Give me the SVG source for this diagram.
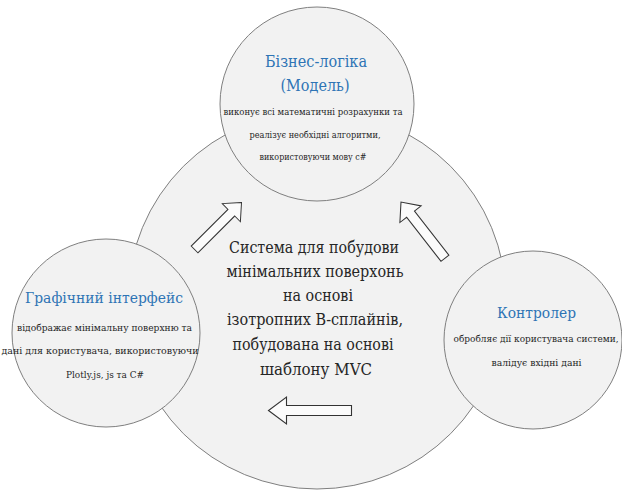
<svg xmlns="http://www.w3.org/2000/svg" width="622" height="491" viewBox="0 0 622 491">
<defs>
<polygon id="arr" points="0,0 -18,-13.5 -18,-5 -83,-5 -83,5 -18,5 -18,13.5" fill="#fbfbfb" stroke="#333333" stroke-width="1.1"/>
</defs>
<rect x="0" y="0" width="622" height="491" fill="#ffffff"/>
<g font-family="DejaVu Serif" text-anchor="middle" lengthAdjust="spacingAndGlyphs">
<g id="system">
<circle cx="317" cy="300" r="189" fill="#f2f2f2" stroke="#7f7f7f"/>
<g font-size="16.5" fill="#262626">
<text x="314" y="253" textLength="170" lengthAdjust="spacingAndGlyphs">Система для побудови</text>
<text x="315" y="277" textLength="177" lengthAdjust="spacingAndGlyphs">мінімальних поверхонь</text>
<text x="318" y="301" textLength="70" lengthAdjust="spacingAndGlyphs">на основі</text>
<text x="315" y="325" textLength="176" lengthAdjust="spacingAndGlyphs">ізотропних В-сплайнів,</text>
<text x="313" y="350" textLength="161" lengthAdjust="spacingAndGlyphs">побудована на основі</text>
<text x="316" y="375" textLength="112" lengthAdjust="spacingAndGlyphs">шаблону MVC</text>
</g>
</g>
<g id="model">
<circle cx="317" cy="104" r="97" fill="#f2f2f2" stroke="#7f7f7f"/>
<text x="316" y="67" font-size="16" fill="#2e74b5" textLength="102" lengthAdjust="spacingAndGlyphs">Бізнес-логіка</text>
<text x="315" y="91" font-size="16" fill="#2e74b5" textLength="69" lengthAdjust="spacingAndGlyphs">(Модель)</text>
<g font-size="9.5" fill="#262626">
<text x="313" y="115" textLength="179" lengthAdjust="spacingAndGlyphs">виконує всі математичні розрахунки та</text>
<text x="315" y="138" textLength="131" lengthAdjust="spacingAndGlyphs">реалізує необхідні алгоритми,</text>
<text x="313" y="160" textLength="107" lengthAdjust="spacingAndGlyphs">використовуючи  мову c#</text>
</g>
</g>
<g id="view">
<circle cx="106" cy="333" r="94" fill="#f2f2f2" stroke="#7f7f7f"/>
<text x="104" y="303" font-size="15.5" fill="#2e74b5" textLength="158" lengthAdjust="spacingAndGlyphs">Графічний інтерфейс</text>
<g font-size="10" fill="#262626">
<text x="104.5" y="331" textLength="175" lengthAdjust="spacingAndGlyphs">відображає мінімальну поверхню та</text>
<text x="100" y="354" textLength="197" lengthAdjust="spacingAndGlyphs">дані для користувача, використовуючи</text>
<text x="105" y="378" textLength="78" lengthAdjust="spacingAndGlyphs">Plotly.js, js та C#</text>
</g>
</g>
<g id="controller">
<circle cx="533" cy="340" r="89" fill="#f2f2f2" stroke="#7f7f7f"/>
<text x="536.5" y="318" font-size="15.5" fill="#2e74b5" textLength="79" lengthAdjust="spacingAndGlyphs">Контролер</text>
<g font-size="10" fill="#262626">
<text x="536" y="342" textLength="165" lengthAdjust="spacingAndGlyphs">обробляє дії користувача системи,</text>
<text x="536.5" y="366" textLength="90" lengthAdjust="spacingAndGlyphs">валідує вхідні дані</text>
</g>
</g>
</g>
<g id="connectors">
<use href="#arr" transform="translate(241.5,202.5) rotate(-45) scale(0.8,0.95)"/>
<use href="#arr" transform="translate(401,202) rotate(-128) scale(0.86,1)"/>
<use href="#arr" transform="translate(268.5,410.5) rotate(180)"/>
</g>
</svg>
